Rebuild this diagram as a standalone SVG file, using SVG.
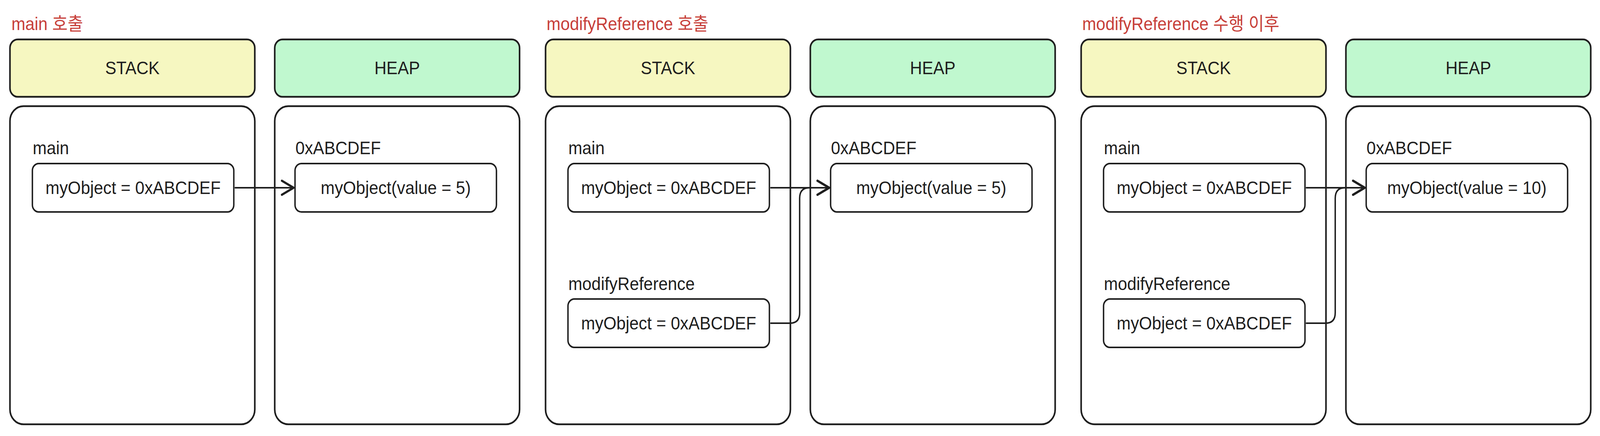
<svg xmlns="http://www.w3.org/2000/svg" width="4496" height="1117" viewBox="0 0 4496 1117" preserveAspectRatio="none" style="width:100vw;height:100vh;display:block">
<defs>
<style>
.bg{fill:#ffffff}
.title{font-family:"Liberation Sans","Noto Sans CJK KR",sans-serif;font-size:47px;fill:#c7403a}
.t{font-family:"Liberation Sans","Noto Sans CJK KR",sans-serif;font-size:47px;fill:#1e1e1e}
.c{text-anchor:middle}
.stackhdr{fill:#f6f7c1;stroke:#1e1e1e;stroke-width:4.5}
.heaphdr{fill:#c0f8cf;stroke:#1e1e1e;stroke-width:4.5}
.frame{fill:#ffffff;stroke:#1e1e1e;stroke-width:4.5}
.box{fill:#ffffff;stroke:#1e1e1e;stroke-width:4}
.conn{fill:none;stroke:#1e1e1e;stroke-width:4;stroke-linecap:round;stroke-linejoin:round}
</style>
<marker id="arrow" markerUnits="userSpaceOnUse" markerWidth="44" markerHeight="44" refX="36" refY="22" orient="auto" overflow="visible">
<path d="M3,4 L36,22 L3,40" fill="none" stroke="#1e1e1e" stroke-width="5.5" stroke-linecap="round" stroke-linejoin="round"/>
</marker>
</defs>
<rect class="bg" x="0" y="0" width="4496" height="1117"/>

<!-- Panel 1 -->
<g id="panel1" transform="translate(28,0)">
<text id="title1" class="title" x="4" y="77">main 호출</text>
<g id="stack1-header"><rect class="stackhdr" x="0" y="101" width="688" height="147" rx="22"/><text class="t c" x="344" y="190">STACK</text></g>
<g id="heap1-header"><rect class="heaphdr" x="744" y="101" width="688" height="147" rx="22"/><text class="t c" x="1088" y="190">HEAP</text></g>
<g id="stack1-frame"><rect class="frame" x="0" y="272" width="688" height="815" rx="38"/></g>
<g id="heap1-frame"><rect class="frame" x="744" y="272" width="688" height="815" rx="38"/></g>
<g id="stack1-main"><text class="t" x="64" y="395">main</text><rect class="box" x="63" y="419" width="566" height="124" rx="18"/><text class="t c" x="346" y="497">myObject = 0xABCDEF</text></g>
<g id="heap1-obj"><text class="t" x="802" y="395">0xABCDEF</text><rect class="box" x="801" y="419" width="566" height="124" rx="18"/><text class="t c" x="1084" y="497">myObject(value = 5)</text></g>
</g>

<!-- Panel 2 -->
<g id="panel2" transform="translate(1533,0)">
<text id="title2" class="title" x="3" y="77">modifyReference 호출</text>
<g id="stack2-header"><rect class="stackhdr" x="0" y="101" width="688" height="147" rx="22"/><text class="t c" x="344" y="190">STACK</text></g>
<g id="heap2-header"><rect class="heaphdr" x="744" y="101" width="688" height="147" rx="22"/><text class="t c" x="1088" y="190">HEAP</text></g>
<g id="stack2-frame"><rect class="frame" x="0" y="272" width="688" height="815" rx="38"/></g>
<g id="heap2-frame"><rect class="frame" x="744" y="272" width="688" height="815" rx="38"/></g>
<g id="stack2-main"><text class="t" x="64" y="395">main</text><rect class="box" x="63" y="419" width="566" height="124" rx="18"/><text class="t c" x="346" y="497">myObject = 0xABCDEF</text></g>
<g id="stack2-modify"><text class="t" x="64" y="743">modifyReference</text><rect class="box" x="63" y="766" width="566" height="124" rx="18"/><text class="t c" x="346" y="844">myObject = 0xABCDEF</text></g>
<g id="heap2-obj"><text class="t" x="802" y="395">0xABCDEF</text><rect class="box" x="801" y="419" width="566" height="124" rx="18"/><text class="t c" x="1084" y="497">myObject(value = 5)</text></g>
</g>

<!-- Panel 3 -->
<g id="panel3" transform="translate(3038,0)">
<text id="title3" class="title" x="3" y="77">modifyReference 수행 이후</text>
<g id="stack3-header"><rect class="stackhdr" x="0" y="101" width="688" height="147" rx="22"/><text class="t c" x="344" y="190">STACK</text></g>
<g id="heap3-header"><rect class="heaphdr" x="744" y="101" width="688" height="147" rx="22"/><text class="t c" x="1088" y="190">HEAP</text></g>
<g id="stack3-frame"><rect class="frame" x="0" y="272" width="688" height="815" rx="38"/></g>
<g id="heap3-frame"><rect class="frame" x="744" y="272" width="688" height="815" rx="38"/></g>
<g id="stack3-main"><text class="t" x="64" y="395">main</text><rect class="box" x="63" y="419" width="566" height="124" rx="18"/><text class="t c" x="346" y="497">myObject = 0xABCDEF</text></g>
<g id="stack3-modify"><text class="t" x="64" y="743">modifyReference</text><rect class="box" x="63" y="766" width="566" height="124" rx="18"/><text class="t c" x="346" y="844">myObject = 0xABCDEF</text></g>
<g id="heap3-obj"><text class="t" x="802" y="395">0xABCDEF</text><rect class="box" x="801" y="419" width="566" height="124" rx="18"/><text class="t c" x="1084" y="497">myObject(value = 10)</text></g>
</g>

<g id="connectors">
<path class="conn" d="M661,481 L825,481" marker-end="url(#arrow)"/>
<path class="conn" d="M2166,481 L2330,481" marker-end="url(#arrow)"/>
<path class="conn" d="M2166,828 L2220,828 Q2247,828 2247,801 L2247,508 Q2247,481 2274,481 L2330,481" marker-end="url(#arrow)"/>
<path class="conn" d="M3671,481 L3835,481" marker-end="url(#arrow)"/>
<path class="conn" d="M3671,828 L3725,828 Q3752,828 3752,801 L3752,508 Q3752,481 3779,481 L3835,481" marker-end="url(#arrow)"/>
</g>
</svg>
